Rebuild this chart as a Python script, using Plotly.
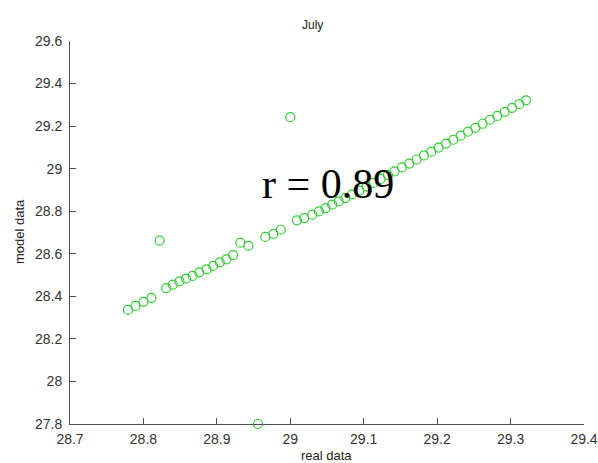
import plotly.graph_objects as go

# Observed (real) vs simulated (model) values for July
real_data = [
    28.779, 28.789, 28.800, 28.811,
    28.822,
    28.831, 28.840, 28.849, 28.858, 28.867, 28.876, 28.886, 28.895, 28.904, 28.913, 28.922,
    28.932, 28.943,
    28.956,
    28.966, 28.977, 28.987,
    29.000,
    29.009, 29.019, 29.030, 29.039, 29.048, 29.057, 29.066, 29.075,
    29.084, 29.094, 29.104, 29.113, 29.123, 29.133, 29.142, 29.152, 29.162, 29.172,
    29.182, 29.192, 29.202, 29.212, 29.222, 29.232, 29.242, 29.252, 29.262, 29.272,
    29.282, 29.292, 29.302, 29.312, 29.321,
]
model_data = [
    28.336, 28.355, 28.374, 28.393,
    28.662,
    28.439, 28.455, 28.470, 28.483, 28.496, 28.513, 28.527, 28.543, 28.560, 28.574, 28.594,
    28.652, 28.637,
    27.800,
    28.679, 28.694, 28.713,
    29.242,
    28.757, 28.768, 28.784, 28.799, 28.815, 28.831, 28.846, 28.862,
    28.879, 28.897, 28.916, 28.933, 28.952, 28.970, 28.987, 29.006, 29.024, 29.043,
    29.062, 29.080, 29.099, 29.118, 29.136, 29.155, 29.174, 29.192, 29.211, 29.230,
    29.248, 29.267, 29.286, 29.304, 29.321,
]
x_ticks = [28.7, 28.8, 28.9, 29.0, 29.1, 29.2, 29.3, 29.4]
x_tick_labels = ["28.7", "28.8", "28.9", "29", "29.1", "29.2", "29.3", "29.4"]
y_ticks = [27.8, 28.0, 28.2, 28.4, 28.6, 28.8, 29.0, 29.2, 29.4, 29.6]
y_tick_labels = ["27.8", "28", "28.2", "28.4", "28.6", "28.8", "29", "29.2", "29.4", "29.6"]
title_text = "July"
x_label = "real data"
y_label = "model data"
r_text = "r = 0.89"

axis_color = "#505050"
label_font = dict(family="Liberation Sans, Arial, sans-serif", size=14, color="#333333")

fig = go.Figure()
fig.add_trace(go.Scatter(
    x=real_data, y=model_data, mode="markers",
    marker=dict(symbol="circle-open", size=9, color="rgb(50,205,50)", line=dict(width=1.2)),
    cliponaxis=False, showlegend=False,
))

fig.update_layout(
    width=598, height=463,
    margin=dict(l=70, r=14, t=41, b=39, autoexpand=False),
    paper_bgcolor="white", plot_bgcolor="white",
    xaxis=dict(
        range=[28.7, 29.4], tickvals=x_ticks, ticktext=x_tick_labels, automargin=False,
        showgrid=False, zeroline=False, showline=True, linecolor=axis_color, linewidth=1,
        ticks="inside", ticklen=6, tickcolor=axis_color, tickfont=label_font,
        ticklabelstandoff=2,
    ),
    yaxis=dict(
        range=[27.8, 29.6], tickvals=y_ticks, ticktext=y_tick_labels, automargin=False,
        showgrid=False, zeroline=False, showline=True, linecolor=axis_color, linewidth=1,
        ticks="inside", ticklen=6, tickcolor=axis_color, tickfont=label_font,
        ticklabelstandoff=4,
    ),
    annotations=[
        dict(text=title_text, xref="paper", yref="paper", x=(312 - 70) / 514, y=1,
             yshift=16, showarrow=False, xanchor="center", yanchor="middle",
             font=dict(family="Liberation Sans, Arial, sans-serif", size=12, color="#222222")),
        dict(text=x_label, xref="paper", yref="paper", x=(326 - 70) / 514, y=0,
             yshift=-31, showarrow=False, xanchor="center", yanchor="middle",
             font=dict(family="Liberation Sans, Arial, sans-serif", size=13, color="#222222")),
        dict(text=y_label, xref="paper", yref="paper", x=0, y=(424 - 232) / 383,
             xshift=-51, showarrow=False, xanchor="center", yanchor="middle", textangle=-90,
             font=dict(family="Liberation Sans, Arial, sans-serif", size=13, color="#222222")),
        dict(text=r_text, xref="x", yref="y", x=29.051, y=28.929,
             showarrow=False, xanchor="center", yanchor="middle",
             font=dict(family="Liberation Serif, Times New Roman, serif", size=42, color="black")),
    ],
)

fig.write_html("out.html")
